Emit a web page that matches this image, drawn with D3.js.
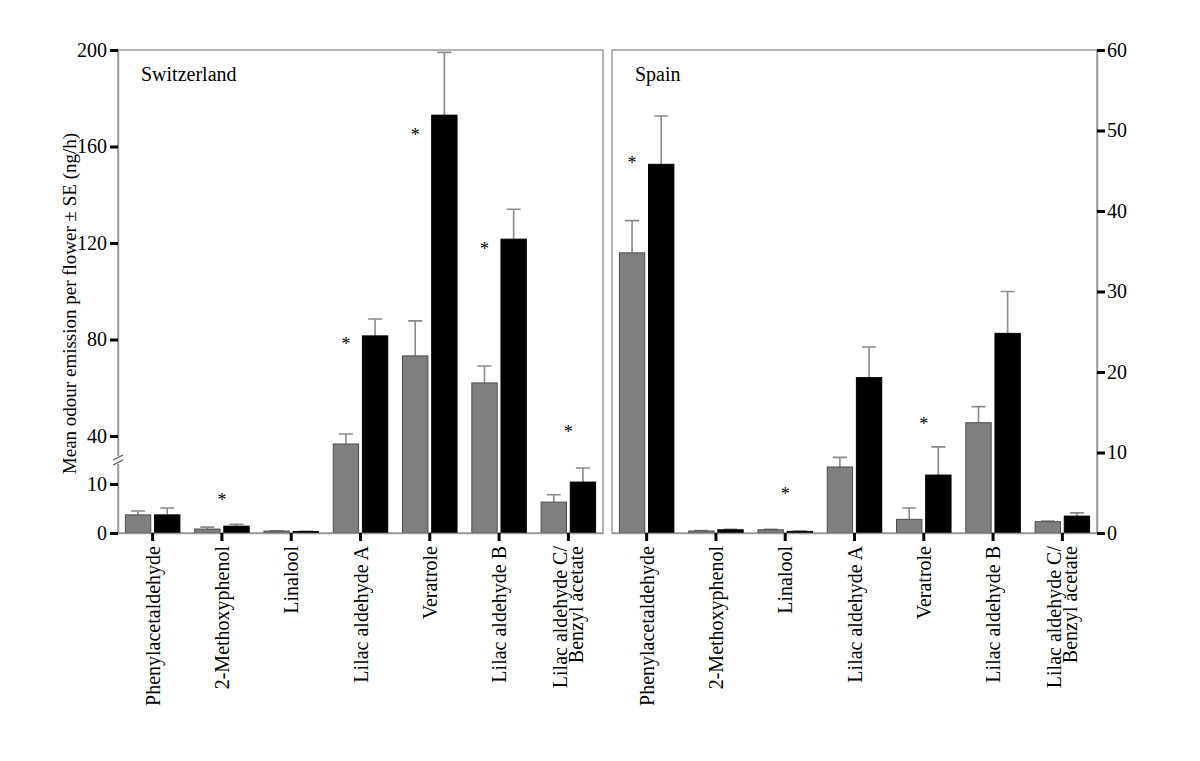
<!DOCTYPE html>
<html>
<head>
<meta charset="utf-8">
<script src="https://cdn.jsdelivr.net/npm/d3@7"></script>
<style>
  body { margin: 0; background: #fff; }
  text { font-family: "Liberation Serif", "Times New Roman", serif; }
</style>
</head>
<body>
<div id="chart"></div>
<script>
// data

const categories = ["Phenylacetaldehyde", "2-Methoxyphenol", "Linalool", "Lilac aldehyde A",
  "Veratrole", "Lilac aldehyde B", "Lilac aldehyde C/Benzyl acetate"];

// Switzerland (left axis)
const chGrey = [3.7, 0.8, 0.4, 35, 73.2, 62, 6.3];
const chGreyErr = [0.8, 0.4, 0.05, 5.8, 14.5, 7, 1.5];
const chBlack = [3.7, 1.4, 0.3, 81.5, 173, 121.6, 11.2];
const chBlackErr = [1.4, 0.4, 0.05, 7, 26, 12.4, 8.8];
const chStars = [null, 6.9, null, 78.5, 165, 118, 42];

// Spain (right axis)
const esGrey = [34.8, 0.25, 0.4, 8.2, 1.7, 13.7, 1.4];
const esGreyErr = [4, 0.05, 0.05, 1.2, 1.4, 2.0, 0.1];
const esBlack = [45.8, 0.4, 0.2, 19.3, 7.2, 24.8, 2.1];
const esBlackErr = [6, 0.05, 0.05, 3.8, 3.5, 5.2, 0.4];
const esStars = [46.1, null, 5.0, null, 13.7, null, null];

const leftTicks = [0, 10, 40, 80, 120, 160, 200];
const rightTicks = [0, 10, 20, 30, 40, 50, 60];

// layout
const W = 1200, H = 761;
const plotTop = 50, base = 533;
const leftPanel = [118, 603];
const rightPanel = [612, 1097];

const svg = d3.select("#chart")
  .append("svg")
    .attr("width", W)
    .attr("height", H);

// left y scale has a break between 10 and 40
const yL = d3.scaleLinear()
  .domain([0, 10, 40, 200])
  .range([base, 484, 436, plotTop]);

const yR = d3.scaleLinear()
  .domain([0, 60])
  .range([base, plotTop]);

function drawPanel(range, y, grey, greyErr, black, blackErr, stars, title) {
  const x = d3.scaleBand().domain(categories).range(range);
  const x1 = d3.scaleBand().domain(["grey", "black"]).range([-27.25, 27.25]).paddingInner(0.13);
  const cx = d => x(d) + x.bandwidth() / 2;

  const g = svg.append("g");

  // frame
  g.append("rect")
    .attr("x", range[0]).attr("y", plotTop)
    .attr("width", range[1] - range[0]).attr("height", base - plotTop)
    .attr("fill", "none")
    .attr("stroke", "#9a9a9a")
    .attr("stroke-width", 1.5);

  const series = [
    { key: "grey", vals: grey, errs: greyErr, fill: "#7f7f7f", stroke: "#4d4d4d" },
    { key: "black", vals: black, errs: blackErr, fill: "#000", stroke: "#000" }
  ];

  series.forEach(function(s) {
    const rows = categories.map((c, i) => ({ c: c, v: s.vals[i], e: s.errs[i] }));

    // error bars (upper only)
    g.selectAll(".err-" + s.key)
      .data(rows)
      .enter()
      .append("path")
        .attr("d", d => {
          const xm = cx(d.c) + x1(s.key) + x1.bandwidth() / 2;
          const y0 = y(d.v), y1 = y(d.v + d.e);
          return `M${xm},${y0}V${y1}M${xm - 7},${y1}H${xm + 7}`;
        })
        .attr("stroke", "#8a8a8a")
        .attr("stroke-width", 1.6)
        .attr("fill", "none");

    g.selectAll(".bar-" + s.key)
      .data(rows)
      .enter()
      .append("rect")
        .attr("x", d => cx(d.c) + x1(s.key))
        .attr("width", x1.bandwidth())
        .attr("y", d => y(d.v))
        .attr("height", d => base - y(d.v))
        .attr("fill", s.fill)
        .attr("stroke", s.stroke)
        .attr("stroke-width", 1);
  });

  // significance stars
  categories.forEach(function(c, i) {
    if (stars[i] == null) return;
    const above = stars[i] > black[i] + blackErr[i];
    const sx = above ? cx(c) : cx(c) + x1("grey") + x1.bandwidth() / 2;
    g.append("text")
      .attr("x", sx)
      .attr("y", y(stars[i]) + 7)
      .attr("text-anchor", "middle")
      .style("font-size", "18px")
      .text("*");
  });

  // x axis ticks
  const xAxis = g.append("g")
    .attr("transform", `translate(0,${base})`)
    .call(d3.axisBottom(x).tickSize(8).tickSizeOuter(0).tickFormat(""));
  xAxis.select(".domain").attr("stroke", "#9a9a9a").attr("stroke-width", 1.5);
  xAxis.selectAll(".tick line").attr("stroke", "#000").attr("stroke-width", 3);

  // category labels
  categories.forEach(function(c) {
    const parts = c.includes("/") ? [c.split("/")[0] + "/", c.split("/")[1]] : [c];
    const t = g.append("text")
      .attr("transform", `translate(${cx(c)},546) rotate(-90)`)
      .attr("text-anchor", "end")
      .style("font-size", "20px");
    parts.forEach(function(p, k) {
      const dy = parts.length === 1 ? 7 : (k === 0 ? -1 : 15);
      t.append("tspan").attr("x", 0).attr("y", dy).text(p);
    });
  });

  g.append("text")
    .attr("x", range[0] + 23)
    .attr("y", 81)
    .style("font-size", "20px")
    .text(title);
}

drawPanel(leftPanel, yL, chGrey, chGreyErr, chBlack, chBlackErr, chStars, "Switzerland");
drawPanel(rightPanel, yR, esGrey, esGreyErr, esBlack, esBlackErr, esStars, "Spain");

// left axis
const axL = svg.append("g")
  .attr("transform", `translate(${leftPanel[0]},0)`)
  .call(d3.axisLeft(yL).tickValues(leftTicks).tickSize(8).tickSizeOuter(0).tickPadding(3));
axL.select(".domain").attr("stroke", "#9a9a9a").attr("stroke-width", 1.5);
axL.selectAll(".tick line").attr("stroke", "#000").attr("stroke-width", 3);
axL.selectAll(".tick text").style("font-size", "20px").attr("fill", "#000")
  .style("font-family", "Liberation Serif, serif");

// axis break marks
const yb = (yL(10) + yL(40)) / 2;
axL.append("rect")
  .attr("x", -3).attr("y", yb - 4).attr("width", 6).attr("height", 8)
  .attr("fill", "#fff");
[-2.5, 2.5].forEach(function(o) {
  axL.append("line")
    .attr("x1", -5).attr("x2", 5)
    .attr("y1", yb + o + 2.5).attr("y2", yb + o - 2.5)
    .attr("stroke", "#555").attr("stroke-width", 1.2);
});

// right axis
const axR = svg.append("g")
  .attr("transform", `translate(${rightPanel[1]},0)`)
  .call(d3.axisRight(yR).tickValues(rightTicks).tickSize(8).tickSizeOuter(0).tickPadding(2));
axR.select(".domain").attr("stroke", "#9a9a9a").attr("stroke-width", 1.5);
axR.selectAll(".tick line").attr("stroke", "#000").attr("stroke-width", 3);
axR.selectAll(".tick text").style("font-size", "20px").attr("fill", "#000")
  .style("font-family", "Liberation Serif, serif");

// y-axis label
svg.append("text")
  .attr("transform", `translate(76,${(plotTop + base) / 2 + 12}) rotate(-90)`)
  .attr("text-anchor", "middle")
  .style("font-size", "19px")
  .text("Mean odour emission per flower \u00b1 SE (ng/h)");
</script>
</body>
</html>
